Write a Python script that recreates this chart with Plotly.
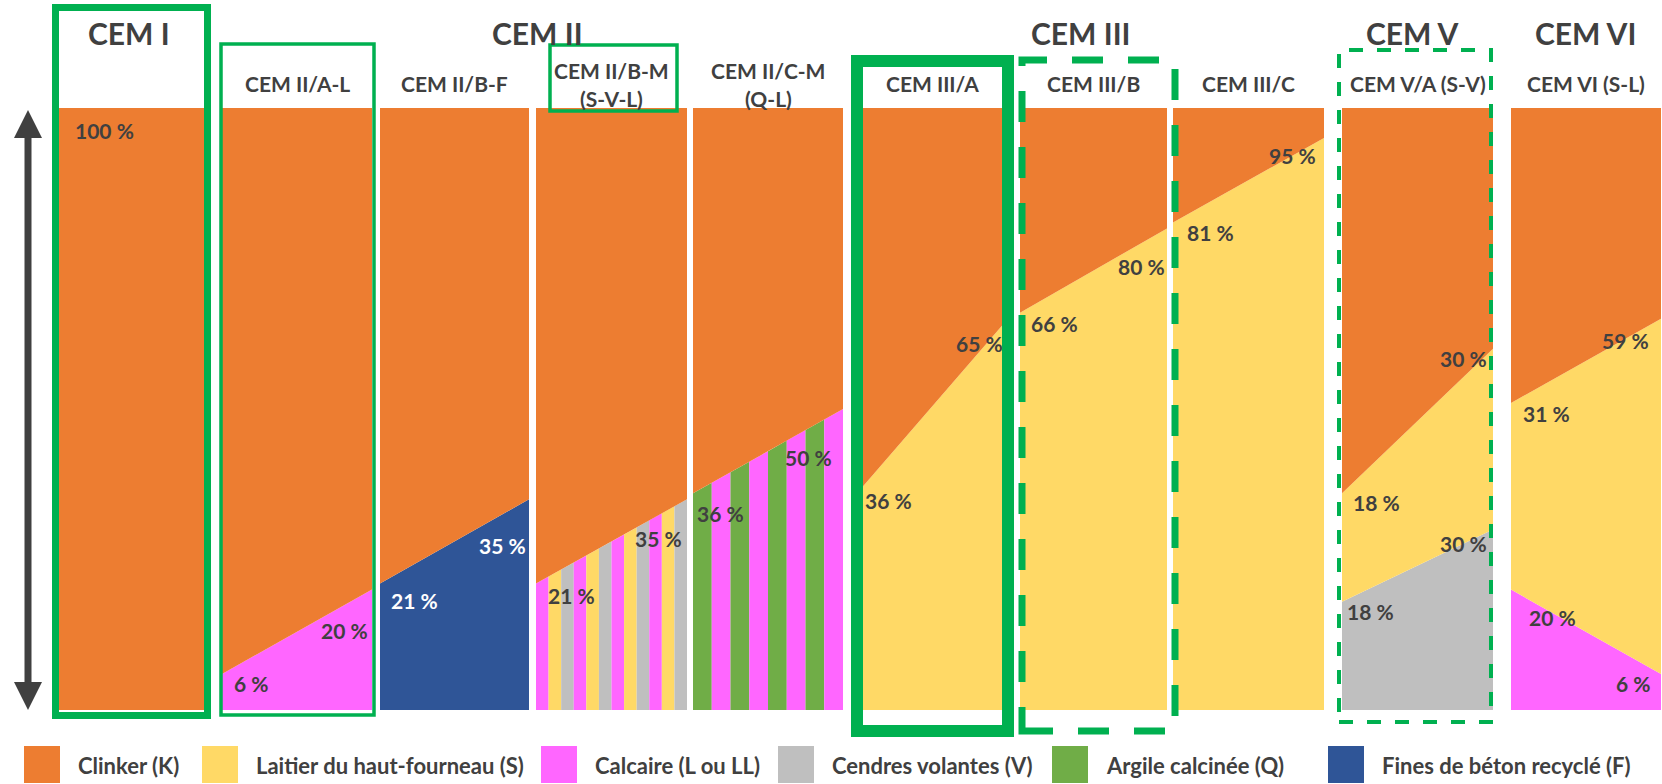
import plotly.graph_objects as go

W, H = 1662, 784

# ---------------- data ----------------
groups = ["CEM I", "CEM II", "CEM III", "CEM V", "CEM VI"]
cements = ["", "CEM II/A-L", "CEM II/B-F", "CEM II/B-M<br>(S-V-L)", "CEM II/C-M<br>(Q-L)",
           "CEM III/A", "CEM III/B", "CEM III/C", "CEM V/A (S-V)", "CEM VI (S-L)"]
# bottom constituent: amount (%) at the left edge and at the right edge of each panel
base_comp = ["K", "L", "F", "SVL", "QL", "S", "S", "S", "V", "L"]
base_left = [100, 6, 21, 21, 36, 36, 66, 81, 18, 20]
base_right = [100, 20, 35, 35, 50, 65, 80, 95, 30, 6]
# second constituent stacked on the first
second_comp = [None, None, None, None, None, None, None, None, "S", "S"]
second_left = [None, None, None, None, None, None, None, None, 18, 31]
second_right = [None, None, None, None, None, None, None, None, 30, 59]

components = ["K", "S", "L", "V", "Q", "F"]
component_names = ["Clinker (K)", "Laitier du haut-fourneau (S)", "Calcaire (L ou LL)",
                   "Cendres volantes (V)", "Argile calcinée (Q)", "Fines de béton recyclé (F)"]
mixtures = {"SVL": ["L", "S", "V"], "QL": ["Q", "L"]}

# ---------------- styles / layout ----------------
colors = {"K": "#ED7D31", "S": "#FFD966", "L": "#FF66FF", "V": "#BFBFBF",
          "Q": "#70AD47", "F": "#2F5597"}
stripe_count = {"SVL": 12, "QL": 8}
TXT = "#404040"
GREEN = "#00B050"
FONT = "Lato"
SZ_GROUP, SZ_SUB, SZ_LAB, SZ_LEG = 30, 21, 21, 22

panel_px = [(58, 205), (222, 372), (380, 529), (536, 687), (693, 843),
            (857, 1008), (1020, 1167), (1173, 1324), (1342, 1493), (1511, 1661)]
TOP, BOT = 108, 710
group_cx = [129, 537, 1080, 1412, 1585]

# label y (pixel centres) and horizontal pads
lab_bl_y = [130, 683, 600, 595, 513, 500, 323, 232, 611, 617]
lab_br_y = [None, 630, 545, 538, 457, 343, 266, 155, 543, 683]
lab_sl_y = [None] * 8 + [502, 413]
lab_sr_y = [None] * 8 + [358, 340]
pad_bl = [15, 10, 9, 10, 2, 6, 9, 12, 3, 16]
pad_br = [0, 2, 1, 3, 9, 3, 0, 6, 4, 8]
pad_sl = [0] * 8 + [9, 10]
pad_sr = [0] * 8 + [4, 10]


def px(x):
    return x / W


def py(y):
    return 1 - y / H


def pct(ypix):
    return (BOT - ypix) / (BOT - TOP) * 100


fig = go.Figure()
layout = dict(width=W, height=H, margin=dict(l=0, r=0, t=0, b=0),
              paper_bgcolor="white", plot_bgcolor="rgba(0,0,0,0)",
              showlegend=False, shapes=[], annotations=[])

layout["yaxis"] = dict(domain=[py(BOT), py(TOP)], range=[0, 100], visible=False,
                       fixedrange=True, anchor="x")


def poly(xax, xs, ys, color):
    fig.add_trace(go.Scatter(x=xs, y=ys, xaxis=xax, yaxis="y", mode="lines",
                             fill="toself", fillcolor=color, line=dict(width=0),
                             hoverinfo="skip"))


for i in range(len(cements)):
    key = "xaxis" if i == 0 else f"xaxis{i + 1}"
    xax = "x" if i == 0 else f"x{i + 1}"
    x0, x1 = panel_px[i]
    layout[key] = dict(domain=[px(x0), px(x1)], range=[0, 1], visible=False,
                       fixedrange=True, anchor="y")
    bl, br = base_left[i], base_right[i]
    top_l, top_r = bl, br
    comp = base_comp[i]
    if comp in mixtures:
        n = stripe_count[comp]
        seq = mixtures[comp]
        for k in range(n):
            a, b = k / n, (k + 1) / n
            ya = bl + (br - bl) * a
            yb = bl + (br - bl) * b
            poly(xax, [a, b, b, a, a], [0, 0, yb, ya, 0], colors[seq[k % len(seq)]])
    else:
        poly(xax, [0, 1, 1, 0, 0], [0, 0, br, bl, 0], colors[comp])
    if second_comp[i]:
        sl, sr = bl + second_left[i], br + second_right[i]
        poly(xax, [0, 1, 1, 0, 0], [bl, br, sr, sl, bl], colors[second_comp[i]])
        top_l, top_r = sl, sr
    if comp != "K":
        poly(xax, [0, 1, 1, 0, 0], [top_l, top_r, 100, 100, top_l], colors["K"])

    # value labels
    lab_col = "white" if comp == "F" else TXT

    def ann(text, side, ypix, pad):
        layout["annotations"].append(dict(
            x=0 if side == "l" else 1, y=pct(ypix), xref=xax, yref="y",
            xanchor="left" if side == "l" else "right", yanchor="middle",
            xshift=pad if side == "l" else -pad, showarrow=False,
            text=f"<b>{text} %</b>", font=dict(family=FONT, size=SZ_LAB, color=lab_col)))
    ann(bl, "l", lab_bl_y[i], pad_bl[i])
    if lab_br_y[i] is not None:
        ann(br, "r", lab_br_y[i], pad_br[i])
    if second_comp[i]:
        ann(second_left[i], "l", lab_sl_y[i], pad_sl[i])
        ann(second_right[i], "r", lab_sr_y[i], pad_sr[i])

    # sub headers
    if cements[i]:
        lines = cements[i].split("<br>")
        cx = (x0 + x1) / 2
        ys = [83] if len(lines) == 1 else [70, 98]
        for line, yy in zip(lines, ys):
            layout["annotations"].append(dict(
                x=px(cx), y=py(yy), xref="paper", yref="paper", showarrow=False,
                xanchor="center", yanchor="middle", text=f"<b>{line}</b>",
                font=dict(family=FONT, size=SZ_SUB, color=TXT)))

# group headers
for g, cx in zip(groups, group_cx):
    layout["annotations"].append(dict(
        x=px(cx), y=py(33), xref="paper", yref="paper", showarrow=False,
        xanchor="center", yanchor="middle", text=f"<b>{g}</b>",
        font=dict(family=FONT, size=SZ_GROUP, color=TXT)))

# green highlight boxes (centre-line coordinates)
boxes = [(55.5, 7.5, 207.5, 715.5, 7, "solid"),
         (221, 44, 374, 715, 3.5, "solid"),
         (550, 45, 677, 111, 3.5, "solid"),
         (857, 61, 1008, 731, 12, "solid"),
         (1022, 60, 1175, 731, 7, "31px,25px"),
         (1339, 50, 1491, 722, 4, "14px,14px")]
for x0, y0, x1, y1, w, d in boxes:
    layout["shapes"].append(dict(type="rect", xref="paper", yref="paper",
                                 x0=px(x0), x1=px(x1), y0=py(y1), y1=py(y0),
                                 line=dict(color=GREEN, width=w, dash=d),
                                 fillcolor="rgba(0,0,0,0)"))

# double arrow
AX = 28
layout["shapes"].append(dict(type="line", xref="paper", yref="paper",
                             x0=px(AX), x1=px(AX), y0=py(134), y1=py(684),
                             line=dict(color=TXT, width=7)))
for apex, base in [(TOP + 2, 138), (BOT, 682)]:
    path = (f"M {px(AX)} {py(apex)} L {px(AX - 14)} {py(base)} "
            f"L {px(AX + 14)} {py(base)} Z")
    layout["shapes"].append(dict(type="path", xref="paper", yref="paper", path=path,
                                 fillcolor=TXT, line=dict(width=0)))

# legend
legend_x = [24, 202, 541, 778, 1052, 1328]
for c, name, lx in zip(components, component_names, legend_x):
    layout["shapes"].append(dict(type="rect", xref="paper", yref="paper",
                                 x0=px(lx), x1=px(lx + 36), y0=py(783), y1=py(746),
                                 fillcolor=colors[c], line=dict(width=0)))
    layout["annotations"].append(dict(
        x=px(lx + 52), y=py(765), xref="paper", yref="paper", showarrow=False,
        xanchor="left", yanchor="middle", text=f"<b>{name}</b>",
        font=dict(family=FONT, size=SZ_LEG, color=TXT)))

fig.update_layout(**layout)
fig.write_html("out.html", config={"displayModeBar": False})
